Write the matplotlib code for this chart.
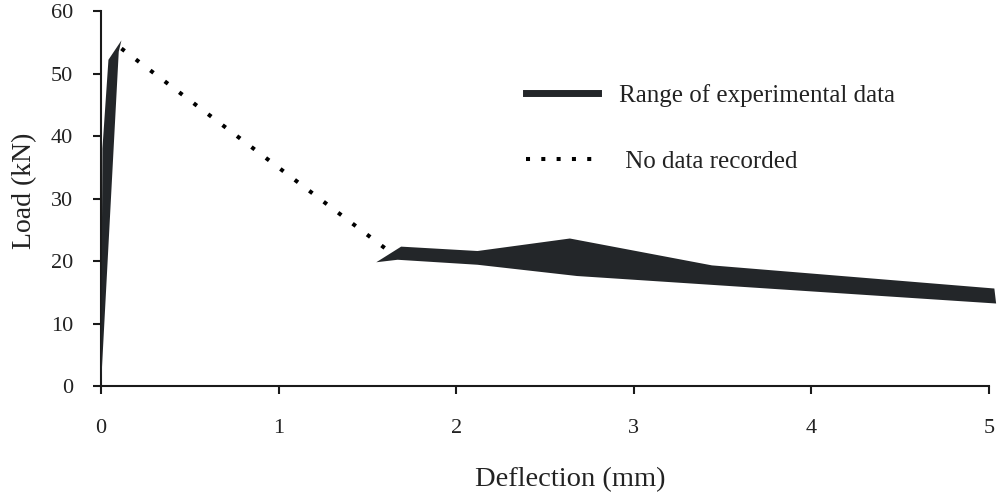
import numpy as np
import matplotlib
matplotlib.use("Agg")
import matplotlib.pyplot as plt
from matplotlib.lines import Line2D

plt.rcParams["font.family"] = ["Liberation Serif", "DejaVu Serif"]

# envelope of the experimental curves, loading branch (deflection mm, load kN)
pre_upper_x = [0.0, 0.008, 0.042, 0.115]
pre_upper_y = [0.0, 38.0, 52.2, 55.3]
pre_lower_x = [0.0, 0.10, 0.115]
pre_lower_y = [0.0, 53.5, 55.3]

# envelope after the load drop
post_upper_x = [1.55, 1.69, 2.12, 2.64, 3.44, 5.03]
post_upper_y = [19.8, 22.3, 21.6, 23.6, 19.3, 15.6]
post_lower_x = [1.55, 1.67, 2.12, 2.68, 5.04]
post_lower_y = [19.8, 20.2, 19.4, 17.6, 13.2]

# part of the curve where nothing was recorded
gap_x = [0.115, 1.62]
gap_y = [54.0, 21.6]

x_ticks = [0, 1, 2, 3, 4, 5]
y_ticks = [0, 10, 20, 30, 40, 50, 60]

band_color = "#232629"
text_color = "#222222"


def band(ax, ux, uy, lx, ly):
    xs = np.concatenate([ux, lx[::-1]])
    ys = np.concatenate([uy, ly[::-1]])
    ax.fill(xs, ys, color=band_color, linewidth=0, clip_on=False, zorder=3)


fig = plt.figure(figsize=(9.97, 4.94), dpi=100)
ax = fig.add_axes([0.1013, 0.2186, 0.8907, 0.7591])

band(ax, pre_upper_x, pre_upper_y, pre_lower_x, pre_lower_y)
band(ax, post_upper_x, post_upper_y, post_lower_x, post_lower_y)
ax.plot(gap_x, gap_y, color="black", linewidth=2.9, linestyle=(0, (1, 3.5)), zorder=2)

ax.set_xlim(0, 5)
ax.set_ylim(0, 60)
ax.set_xticks(x_ticks)
ax.set_yticks(y_ticks)
for side in ("top", "right"):
    ax.spines[side].set_visible(False)
for side in ("left", "bottom"):
    ax.spines[side].set_linewidth(1.5)
    ax.spines[side].set_color("#1a1a1a")
ax.tick_params(axis="both", direction="out", length=6, width=1.5, labelsize=16, colors="#1a1a1a")
ax.tick_params(axis="x", pad=18)
ax.tick_params(axis="y", pad=14)
for lab in ax.get_xticklabels() + ax.get_yticklabels():
    lab.set_color(text_color)

ax.set_xlabel("Deflection (mm)", fontsize=20.5, color=text_color, labelpad=15)
ax.xaxis.set_label_coords(0.528, -0.215)
ax.set_ylabel("Load (kN)", fontsize=20, color=text_color, labelpad=10)
ax.yaxis.label.set_y(0.52)

handles = [
    Line2D([], [], color=band_color, linewidth=5),
    Line2D([], [], color="black", linewidth=2.9, linestyle=(0, (1, 2.8))),
]
labels = ["Range of experimental data", " No data recorded"]
ax.legend(handles, labels, loc="upper left", bbox_to_anchor=(0.479, 0.806),
          frameon=False, fontsize=18, handlelength=2.85, handletextpad=0.85,
          labelspacing=1.76, borderpad=0, borderaxespad=0, labelcolor=text_color)

fig.savefig("out.png", dpi=100)
